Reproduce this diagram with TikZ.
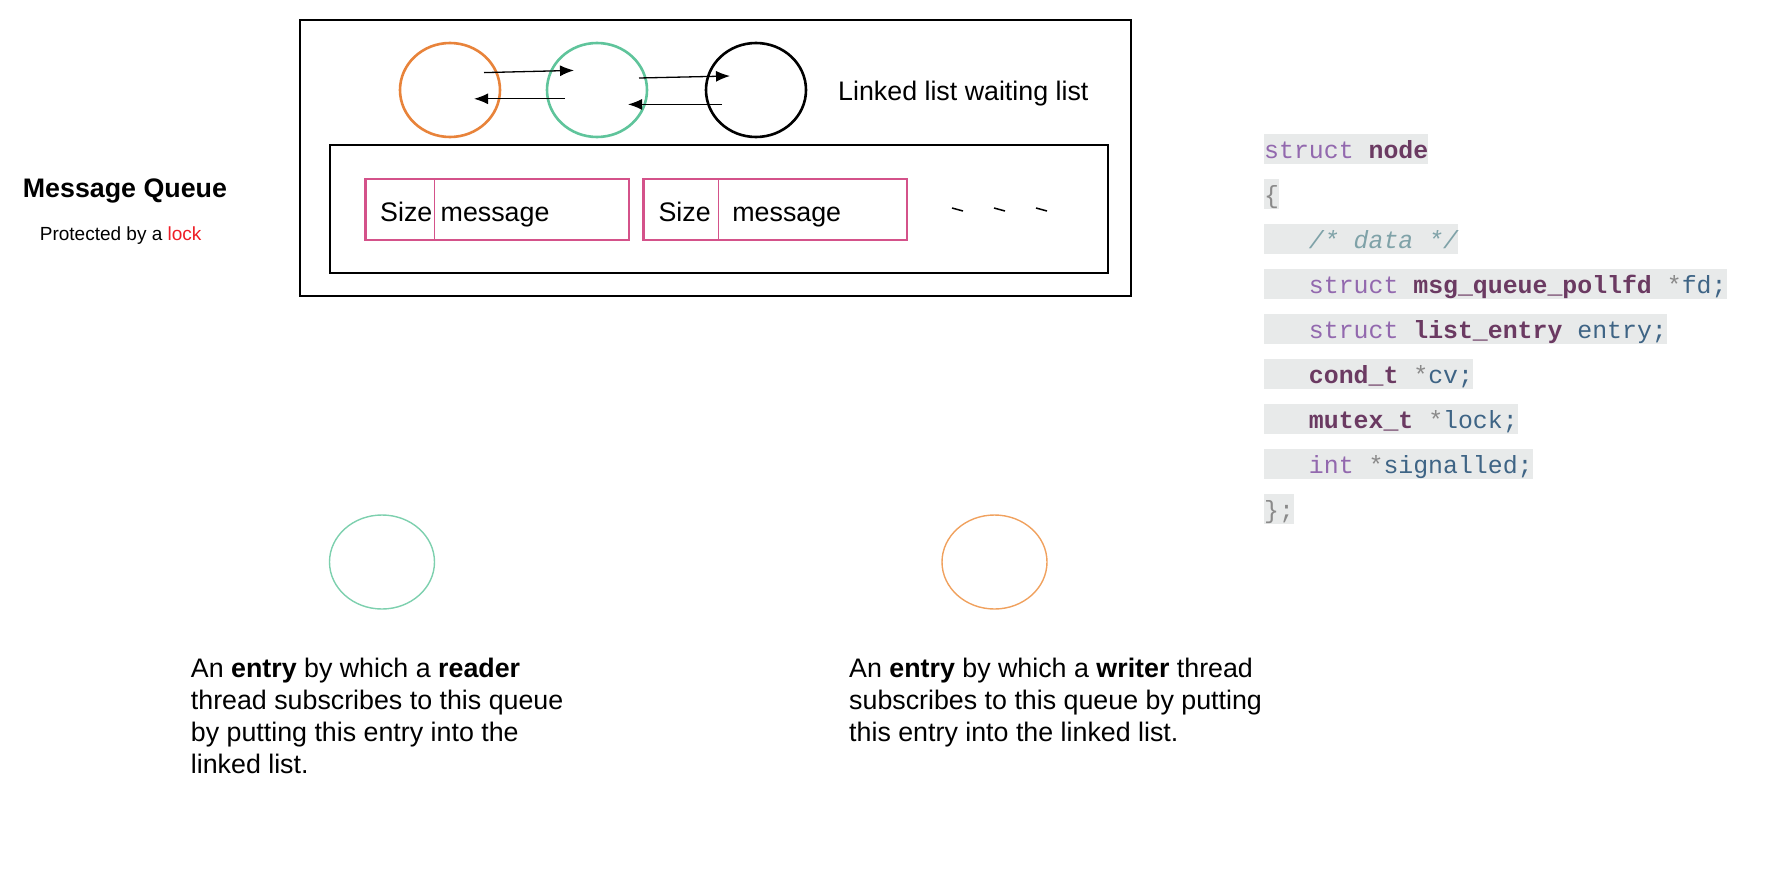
\documentclass[tikz,border=0pt]{standalone}
\usepackage{fontspec}
\setmainfont{Liberation Sans}
\setmonofont{Liberation Mono}
\usetikzlibrary{arrows.meta,shapes.geometric}
\definecolor{qorange}{HTML}{E8833A}
\definecolor{qgreen}{HTML}{5FC49B}
\definecolor{qpink}{HTML}{D4528A}
\definecolor{lgreen}{HTML}{7DD0AE}
\definecolor{lorange}{HTML}{F0A15E}
\definecolor{codebg}{HTML}{E8EAEA}
\definecolor{kwc}{HTML}{9268AE}
\definecolor{tyc}{HTML}{6B3A62}
\definecolor{idc}{HTML}{3E6485}
\definecolor{punc}{HTML}{8A8A8A}
\definecolor{cmtc}{HTML}{7FA2A8}
\definecolor{lockred}{HTML}{EE1C25}
\newcommand\csp{\hphantom{x}}
\newcommand\cind{\hphantom{xxx}}
\newcommand\ckw[1]{\textcolor{kwc}{#1}}
\newcommand\cty[1]{\textcolor{tyc}{\bfseries #1}}
\newcommand\cid[1]{\textcolor{idc}{#1}}
\newcommand\cpu[1]{\textcolor{punc}{#1}}
\newcommand\ccm[1]{\textcolor{cmtc}{\itshape #1}}
\tikzset{
  mainfont/.style={font=\fontsize{26.8}{32}\selectfont},
  txt/.style={mainfont, anchor=base west, inner sep=0pt},
  codeline/.style={anchor=north west, fill=codebg, inner sep=0pt, text height=24pt, text depth=6pt, font=\fontsize{24.85}{30}\ttfamily},
  bigell/.style={ellipse, draw, line width=2.6pt, minimum width=100pt, minimum height=94pt, inner sep=0pt},
  smallell/.style={ellipse, draw, line width=1.4pt, minimum width=105pt, minimum height=94pt, inner sep=0pt},
  linkarrow/.style={-{Latex[length=14pt,width=11pt]}, line width=1.3pt},
  frame/.style={draw, line width=2.6pt},
  msgbox/.style={draw=qpink, line width=2.6pt},
}
\begin{document}
\begin{tikzpicture}[x=1pt,y=-1pt]
\useasboundingbox (0,0) rectangle (1780,894);
% frames
\draw[frame] (300,20) rectangle (1131,296);
\draw[frame] (330,145) rectangle (1108,273);
% linked list ellipses
\node[bigell, draw=qorange] (e1) at (450,90) {};
\node[bigell, draw=qgreen] (e2) at (597,90) {};
\node[bigell, draw=black] (e3) at (756,90) {};
\coordinate (a1s) at (484,72.6); \coordinate (a1e) at (574,70.4);
\coordinate (b1s) at (565,98.8); \coordinate (b1e) at (474,98.8);
\coordinate (a2s) at (639,78); \coordinate (a2e) at (730,76);
\coordinate (b2s) at (722,104.4); \coordinate (b2e) at (628,104.4);
\draw[linkarrow] (a1s) -- (a1e);
\draw[linkarrow] (b1s) -- (b1e);
\draw[linkarrow] (a2s) -- (a2e);
\draw[linkarrow] (b2s) -- (b2e);
\node[txt] (ll) at (838,100.5) {Linked list waiting list};
% messages
\draw[msgbox] (365.5,179) rectangle (629,240);
\draw[draw=qpink, line width=1pt] (434.8,179) -- (434.8,240);
\draw[msgbox] (643.7,179) rectangle (907,240);
\draw[draw=qpink, line width=1pt] (718.6,179) -- (718.6,240);
\node[txt] (s1) at (380,221) {Size};
\node[txt] (m1) at (440.5,221) {message};
\node[txt] (s2) at (658.4,221) {Size};
\node[txt] (m2) at (732.2,221) {message};
\draw[line width=1.5pt] (952,208) -- (963,211);
\draw[line width=1.5pt] (994,208) -- (1005,211);
\draw[line width=1.5pt] (1036,208) -- (1047,211);
% title
\node[txt, font=\fontsize{26.8}{32}\selectfont\bfseries] (title) at (22.7,197) {Message Queue};
\node[txt, font=\fontsize{19}{23}\selectfont] (prot) at (39.7,240.5) {Protected by a \textcolor{lockred}{lock}};
% bottom entries
\node[smallell, draw=lgreen] (rd) at (382,562) {};
\node[smallell, draw=lorange] (wr) at (994.5,562) {};
\node[txt] (r1) at (190.7,677) {An \textbf{entry} by which a \textbf{reader}};
\node[txt] (r2) at (190.7,709) {thread subscribes to this queue};
\node[txt] (r3) at (190.7,741) {by putting this entry into the};
\node[txt] (r4) at (190.7,773) {linked list.};
\node[txt] (w1) at (849,677) {An \textbf{entry} by which a \textbf{writer} thread};
\node[txt] (w2) at (849,709) {subscribes to this queue by putting};
\node[txt] (w3) at (849,741) {this entry into the linked list.};
% code
\node[codeline] (c1) at (1264,134) {\ckw{struct}\csp\cty{node}};
\node[codeline] (c2) at (1264,179) {\cpu{\{}};
\node[codeline] (c3) at (1264,224) {\cind\ccm{/*\csp data\csp */}};
\node[codeline] (c4) at (1264,269) {\cind\ckw{struct}\csp\cty{msg\_queue\_pollfd}\csp\cpu{*}\cid{fd;}};
\node[codeline] (c5) at (1264,314) {\cind\ckw{struct}\csp\cty{list\_entry}\csp\cid{entry;}};
\node[codeline] (c6) at (1264,359) {\cind\cty{cond\_t}\csp\cpu{*}\cid{cv;}};
\node[codeline] (c7) at (1264,404) {\cind\cty{mutex\_t}\csp\cpu{*}\cid{lock;}};
\node[codeline] (c8) at (1264,449) {\cind\ckw{int}\csp\cpu{*}\cid{signalled;}};
\node[codeline] (c9) at (1264,494) {\cpu{\};}};
\end{tikzpicture}
\end{document}
